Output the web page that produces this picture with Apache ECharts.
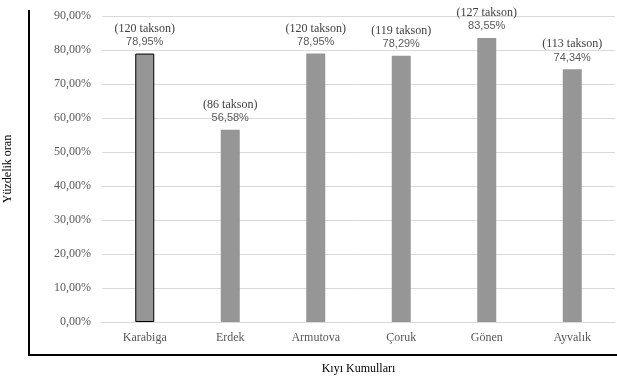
<!DOCTYPE html>
<html>
<head>
<meta charset="utf-8">
<script src="https://cdn.jsdelivr.net/npm/echarts@6/dist/echarts.min.js"></script>
<style>
  html, body { margin: 0; padding: 0; background: #fff; }
  #chart { width: 617px; height: 379px; }
</style>
</head>
<body>
<div id="chart"></div>
<script>
// Sand dune sites and the share of taxa recorded at each
const categories = ['Karabiga', 'Erdek', 'Armutova', 'Çoruk', 'Gönen', 'Ayvalık'];
const percentages = [78.95, 56.58, 78.95, 78.29, 83.55, 74.34];
const taxonCounts = [120, 86, 120, 119, 127, 113];
const yTicks = [0, 10, 20, 30, 40, 50, 60, 70, 80, 90];

const SERIF = '"Liberation Serif", "Times New Roman", serif';
const SANS = '"Liberation Sans", Arial, sans-serif';

const fmtPct = v => v.toFixed(2).replace('.', ',') + '%';

const chart = echarts.init(document.getElementById('chart'), null, { renderer: 'canvas' });

chart.setOption({
  backgroundColor: '#ffffff',
  animation: false,
  grid: { left: 102, right: 2, top: 16, bottom: 57, containLabel: false, outerBoundsMode: 'none' },
  xAxis: {
    type: 'category',
    data: categories,
    axisLine: { show: true, lineStyle: { color: '#d9d9d9', width: 1 } },
    axisTick: { show: false },
    axisLabel: { color: '#595959', fontFamily: SERIF, fontSize: 12, margin: 10 },
    name: 'Kıyı Kumulları',
    nameLocation: 'middle',
    nameGap: 41,
    nameTextStyle: { color: '#000', fontFamily: SERIF, fontSize: 12 }
  },
  yAxis: {
    type: 'value',
    min: yTicks[0],
    max: yTicks[yTicks.length - 1],
    interval: 10,
    axisLine: { show: false },
    axisTick: { show: false },
    splitLine: { lineStyle: { color: '#d9d9d9', width: 1 } },
    axisLabel: {
      color: '#595959', fontFamily: SERIF, fontSize: 12, margin: 11,
      formatter: v => fmtPct(v)
    },
    name: 'Yüzdelik oran',
    nameLocation: 'middle',
    nameGap: 88,
    nameRotate: 90,
    nameTextStyle: { color: '#000', fontFamily: SERIF, fontSize: 12 }
  },
  series: [{
    type: 'bar',
    barWidth: 19,
    data: percentages.map((v, i) => i === 0
      ? { value: v, itemStyle: { color: '#969696', borderColor: '#000', borderWidth: 1 } }
      : { value: v }),
    itemStyle: { color: '#969696' },
    label: {
      show: true,
      position: 'top',
      distance: 5,
      formatter: p => '{a|(' + taxonCounts[p.dataIndex] + ' takson)}\n{b|' + fmtPct(p.value) + '}',
      rich: {
        a: { fontFamily: SERIF, fontSize: 12, color: '#404040', lineHeight: 14, align: 'center' },
        b: { fontFamily: SANS, fontSize: 11, color: '#595959', lineHeight: 13, align: 'center' }
      }
    }
  }],
  graphic: [
    { type: 'line', shape: { x1: 29, y1: 10, x2: 29, y2: 355 }, style: { stroke: '#000', lineWidth: 2 } },
    { type: 'line', shape: { x1: 28, y1: 355, x2: 617, y2: 355 }, style: { stroke: '#000', lineWidth: 2 } }
  ]
});
</script>
</body>
</html>
